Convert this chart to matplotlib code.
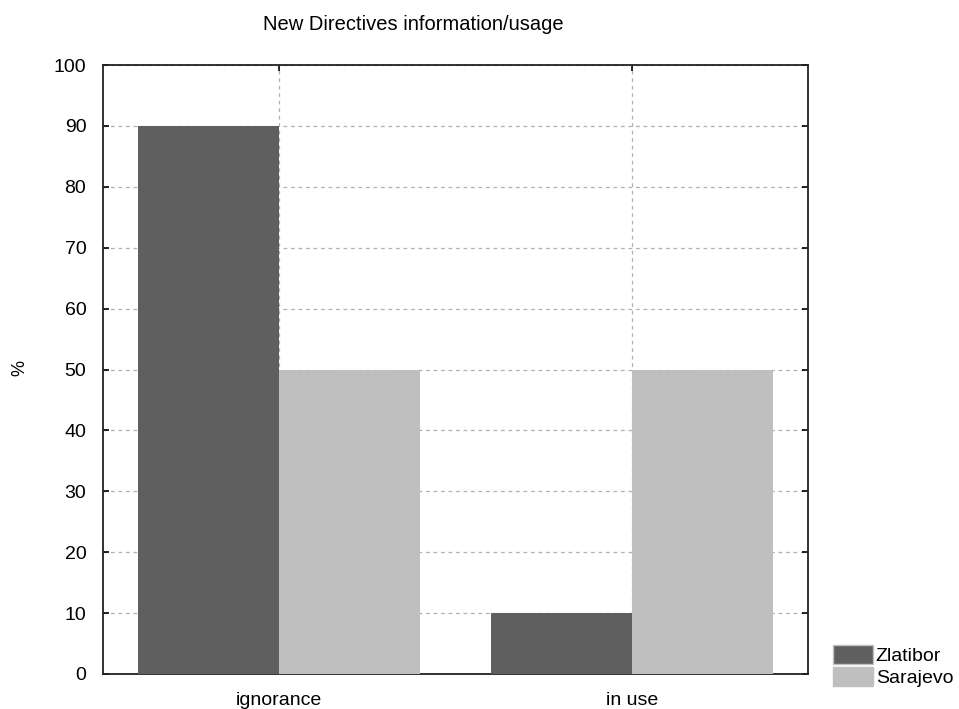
import numpy as np
import matplotlib
matplotlib.use("Agg")
import matplotlib.pyplot as plt
from matplotlib.patches import Patch

# data
categories = ["ignorance", "in use"]
zlatibor = [90, 10]
sarajevo = [50, 50]
series_names = ["Zlatibor", "Sarajevo"]
colors = ["#5f5f5f", "#bfbfbf"]

plt.rcParams['font.family'] = ['Liberation Sans', 'DejaVu Sans']

fig = plt.figure(figsize=(9.59, 7.09), dpi=100)
ax = fig.add_axes([103/959, 1 - 674/709, (808-103)/959, (674-65)/709])

x = np.arange(len(categories))
w = 0.4
ax.bar(x - w/2, zlatibor, width=w, color=colors[0], edgecolor="none", zorder=3)
ax.bar(x + w/2, sarajevo, width=w, color=colors[1], edgecolor="none", zorder=3)

ax.set_xlim(-0.5, 1.5)
ax.set_ylim(0, 100)
ax.set_xticks(x)
ax.set_xticklabels(categories)
ax.set_yticks(np.arange(0, 101, 10))
ax.tick_params(direction="in", top=True, right=True, length=4, width=1.2,
               labelsize=14, colors="black")
ax.tick_params(axis="y", pad=12)
ax.tick_params(axis="x", pad=13)
ax.grid(True, color="#b0b0b0", linestyle=(0, (3, 3)), linewidth=0.9, zorder=1)
for s in ax.spines.values():
    s.set_linewidth(1.3)
    s.set_color("#222222")

fig.text(20/959, 1 - 368/709, "%", rotation=90, ha="center", va="center",
         fontsize=13)
fig.text(413/959, 1 - 25/709, "New Directives information/usage",
         ha="center", va="center", fontsize=14.5)

handles = [Patch(facecolor=c, edgecolor="#c0c0c0") for c in colors]
fig.legend(handles, series_names, loc="upper left",
           bbox_to_anchor=(833/959, 1 - 645/709), frameon=False,
           fontsize=14, handlelength=2.05, handleheight=1.1,
           handletextpad=0.15, labelspacing=0.1, borderpad=0, borderaxespad=0)

fig.savefig("out.png", dpi=100)
